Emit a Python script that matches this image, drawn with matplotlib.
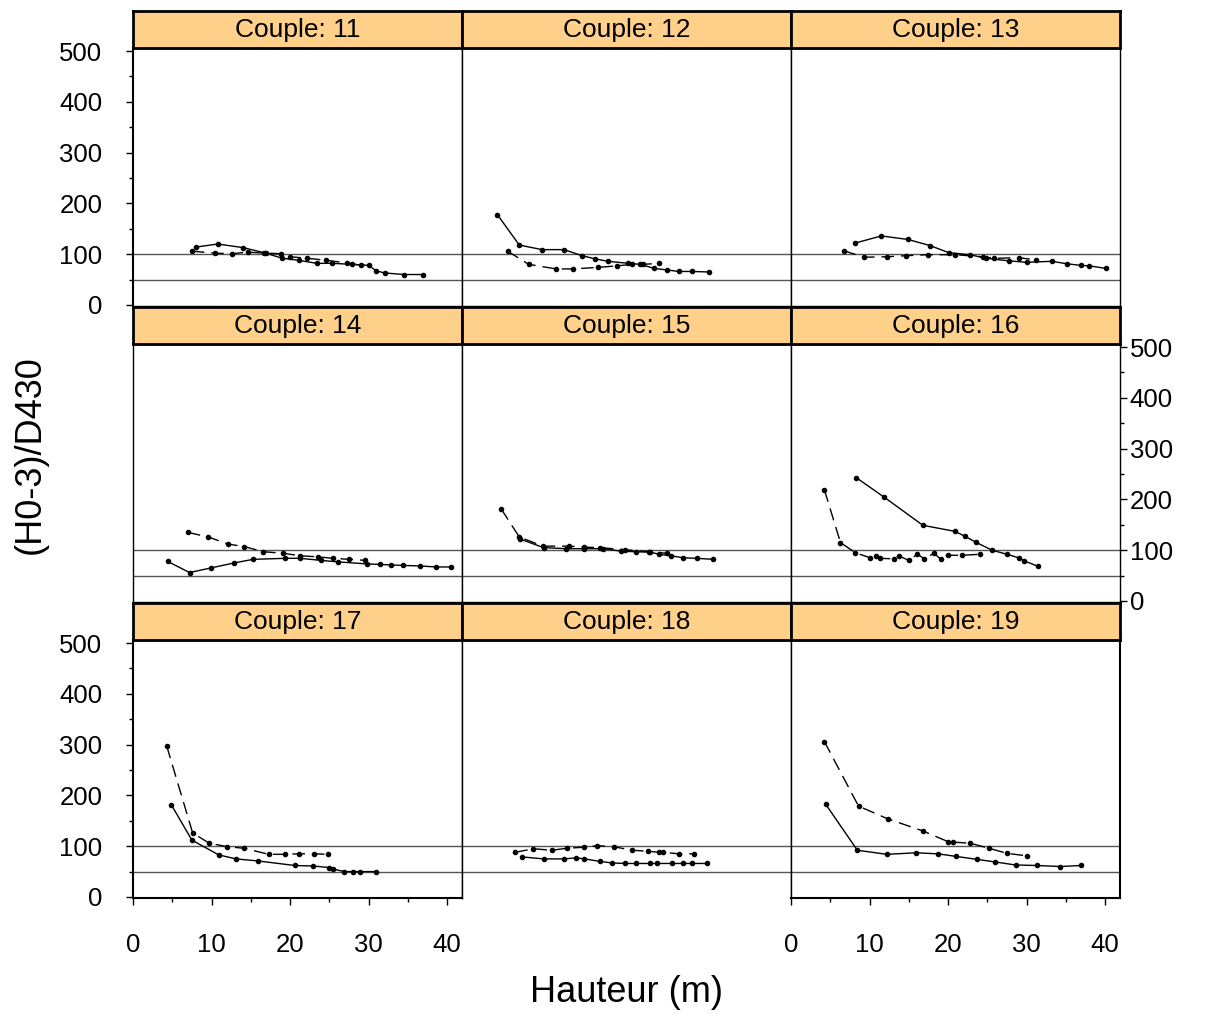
import matplotlib
matplotlib.use("Agg")
from matplotlib import pyplot as plt
from matplotlib.ticker import MultipleLocator

plt.rcParams['font.family'] = ['Liberation Sans', 'DejaVu Sans']

# hauteur (m) et (H0-3)/D430, deux arbres par couple
c11_a_x = [8.0, 10.8, 14.0, 16.7, 19.0, 21.1, 23.4, 25.4, 27.9, 30.0, 31.0, 32.1, 34.5, 36.9]
c11_a_y = [114, 120, 113, 103, 92, 88, 82, 82, 80, 78, 67, 63, 60, 60]
c11_b_x = [7.5, 10.4, 12.6, 14.6, 17.0, 18.8, 20.0, 22.2, 24.6, 27.2, 29.1]
c11_b_y = [106, 102, 101, 104, 102, 101, 95, 92, 88, 83, 78]

c12_a_x = [4.5, 7.3, 10.2, 13.0, 15.3, 16.9, 18.6, 21.2, 22.7, 24.5, 26.1, 27.6, 29.3, 31.4]
c12_a_y = [178, 118, 109, 109, 97, 91, 86, 82, 80, 72, 69, 66, 66, 65]
c12_b_x = [5.8, 8.5, 12.0, 14.1, 17.3, 19.7, 21.7, 23.1, 25.1]
c12_b_y = [106, 80, 71, 71, 74, 77, 80, 80, 82]

c13_a_x = [8.2, 11.5, 14.9, 17.7, 20.1, 22.8, 24.8, 27.7, 30.0, 33.2, 35.2, 36.9, 38.0, 40.1]
c13_a_y = [122, 136, 129, 117, 103, 99, 92, 87, 84, 86, 81, 78, 77, 72]
c13_b_x = [6.7, 9.3, 12.2, 14.6, 17.5, 20.9, 24.4, 25.9, 29.0, 31.2]
c13_b_y = [107, 94, 95, 97, 99, 99, 95, 92, 93, 89]

c14_a_x = [4.4, 7.2, 9.9, 12.9, 15.3, 19.4, 21.3, 23.9, 26.1, 29.8, 31.4, 32.8, 34.4, 36.5, 38.6, 40.5]
c14_a_y = [78, 56, 65, 75, 82, 84, 84, 80, 77, 73, 72, 71, 70, 69, 67, 67]
c14_b_x = [7.0, 9.6, 12.1, 14.2, 16.6, 19.1, 21.3, 23.5, 25.5, 27.5, 29.6]
c14_b_y = [135, 126, 112, 107, 97, 94, 89, 87, 84, 82, 80]

c15_a_x = [7.4, 10.4, 13.3, 15.6, 18.0, 20.3, 22.1, 24.0, 25.1, 26.6, 28.2, 29.9, 32.0]
c15_a_y = [122, 105, 103, 103, 103, 98, 97, 96, 92, 89, 85, 84, 82]
c15_b_x = [5.0, 7.3, 10.3, 13.6, 15.6, 17.6, 20.7, 23.8, 26.1]
c15_b_y = [181, 126, 108, 108, 106, 105, 101, 97, 94]

c16_a_x = [8.3, 11.9, 16.8, 20.9, 22.2, 23.5, 25.6, 27.5, 29.0, 29.7, 31.5]
c16_a_y = [243, 204, 149, 137, 127, 116, 100, 92, 85, 79, 68]
c16_b_x = [4.25, 6.3, 8.2, 10.1, 10.8, 11.3, 13.1, 13.7, 15.0, 16.1, 17.0, 18.2, 19.1, 20.0, 21.8, 24.1]
c16_b_y = [219, 115, 95, 85, 88, 84, 83, 89, 80, 92, 83, 94, 82, 90, 90, 92]

c17_a_x = [4.9, 7.5, 10.9, 13.1, 15.9, 20.6, 22.9, 25.0, 25.5, 26.9, 28.0, 28.9, 31.0]
c17_a_y = [181, 112, 83, 75, 71, 62, 61, 58, 55, 50, 50, 50, 50]
c17_b_x = [4.3, 7.6, 9.7, 12.0, 14.1, 17.3, 19.3, 21.2, 23.1, 24.8]
c17_b_y = [297, 126, 106, 99, 96, 84, 84, 85, 85, 84]

c18_a_x = [7.6, 10.4, 13.0, 14.5, 15.6, 17.6, 19.1, 20.7, 22.1, 23.9, 24.8, 26.7, 28.1, 29.3, 31.2]
c18_a_y = [79, 75, 75, 77, 75, 70, 67, 66, 66, 66, 66, 66, 66, 66, 66]
c18_b_x = [6.8, 9.1, 11.4, 13.4, 15.6, 17.2, 19.3, 21.7, 23.7, 25.1, 25.6, 27.6, 29.5]
c18_b_y = [88, 95, 92, 96, 98, 101, 99, 92, 90, 88, 88, 85, 85]

c19_a_x = [4.4, 8.45, 12.2, 15.9, 18.7, 21.0, 23.7, 26.0, 28.6, 31.3, 34.3, 36.9]
c19_a_y = [183, 92, 84, 87, 85, 80, 74, 69, 63, 62, 60, 62]
c19_b_x = [4.25, 8.6, 12.3, 16.8, 20.0, 20.6, 22.8, 25.2, 27.5, 30.0]
c19_b_y = [306, 179, 154, 130, 109, 108, 106, 96, 86, 81]

couples = [11, 12, 13, 14, 15, 16, 17, 18, 19]
solid = [(c11_a_x, c11_a_y), (c12_a_x, c12_a_y), (c13_a_x, c13_a_y),
         (c14_a_x, c14_a_y), (c15_a_x, c15_a_y), (c16_a_x, c16_a_y),
         (c17_a_x, c17_a_y), (c18_a_x, c18_a_y), (c19_a_x, c19_a_y)]
dashed = [(c11_b_x, c11_b_y), (c12_b_x, c12_b_y), (c13_b_x, c13_b_y),
          (c14_b_x, c14_b_y), (c15_b_x, c15_b_y), (c16_b_x, c16_b_y),
          (c17_b_x, c17_b_y), (c18_b_x, c18_b_y), (c19_b_x, c19_b_y)]
ref_lines = [100, 50]

W, H = 1205, 1017
fig = plt.figure(figsize=(W / 100, H / 100), dpi=100)


def rect(x0, y0, w, h):
    return [x0 / W, 1 - (y0 + h) / H, w / W, h / H]


col_x = [133, 462, 791]
col_w = 329
row_y = [48, 344, 640]
row_h = 258
strip_h = 37

for i, num in enumerate(couples):
    r, c = divmod(i, 3)
    ax = fig.add_axes(rect(col_x[c], row_y[r], col_w, row_h))
    for v in ref_lines:
        ax.axhline(v, color="#555555", lw=1)
    sx, sy = solid[i]
    dx, dy = dashed[i]
    ax.plot(sx, sy, color="black", lw=1, marker="o", ms=3)
    ax.plot(dx, dy, color="black", lw=1, marker="o", ms=3, dashes=(9, 5))
    ax.set_xlim(0, 41.9)
    ax.set_ylim(-2, 506)
    for sp in ax.spines.values():
        sp.set_linewidth(1)
    ax.xaxis.set_major_locator(MultipleLocator(10))
    ax.xaxis.set_minor_locator(MultipleLocator(5))
    ax.yaxis.set_major_locator(MultipleLocator(100))
    ax.yaxis.set_minor_locator(MultipleLocator(50))
    ax.tick_params(which="both", direction="out", labelsize=18.5, width=1)
    ax.tick_params(which="major", length=5)
    ax.tick_params(which="minor", length=3)

    # axes en alternance, comme lattice
    show_left = c == 0 and r in (0, 2)
    show_right = c == 2 and r == 1
    show_bottom = r == 2 and c in (0, 2)
    ax.tick_params(axis="y", which="both", left=show_left, labelleft=show_left,
                   right=show_right, labelright=show_right)
    ax.tick_params(axis="y", which="major", pad=17 if show_left else 2)
    ax.tick_params(axis="x", which="both", bottom=show_bottom, labelbottom=show_bottom)
    ax.tick_params(axis="x", which="major", pad=20)
    if show_left or show_bottom:
        ax.spines["left" if c == 0 else "right"].set_linewidth(1.5)
    if show_bottom:
        ax.spines["bottom"].set_linewidth(1.5)
    if r == 2 and c == 1:
        ax.spines["bottom"].set_visible(False)

    st = fig.add_axes(rect(col_x[c], row_y[r] - strip_h, col_w, strip_h))
    st.set_facecolor("#FFD08A")
    st.set_xticks([])
    st.set_yticks([])
    for sp in st.spines.values():
        sp.set_linewidth(2)
    st.text(0.5, 0.5, "Couple: %d" % num, ha="center", va="center", fontsize=19,
            transform=st.transAxes)

fig.text(30 / W, 1 - 455 / H, "(H0-3)/D430", rotation=90, ha="center", va="center", fontsize=26)
fig.text(627 / W, 1 - 993 / H, "Hauteur (m)", ha="center", va="center", fontsize=26)

fig.savefig("out.png", dpi=100)
